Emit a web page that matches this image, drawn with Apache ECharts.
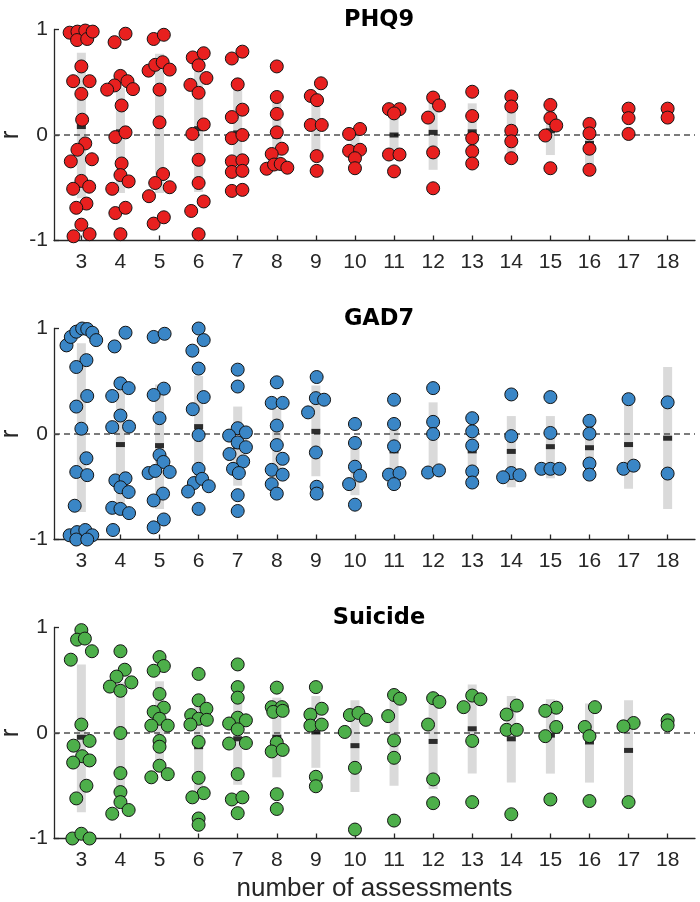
<!DOCTYPE html>
<html><head><meta charset="utf-8">
<script src="https://cdn.jsdelivr.net/npm/echarts@6/dist/echarts.min.js"></script>
<style>html,body{margin:0;padding:0;background:#fff}#c{width:700px;height:902px}</style>
</head><body><div id="c"></div>
<script>
// ---------- data ----------
const categories = [3,4,5,6,7,8,9,10,11,12,13,14,15,16,17,18];
const panelTitles = ['PHQ9','GAD7','Suicide'];
const xAxisTitle = 'number of assessments';
const yAxisTitle = 'r';
const referenceR = [0];

// points: [number of assessments, horizontal jitter, r]
const phqPoints = [
 [3,-0.30,0.97],[3,-0.10,0.98],[3,-0.11,0.90],[3,0.10,0.99],[3,0.15,0.91],[3,0.29,0.98],[3,0,0.65],[3,-0.21,0.51],[3,0.21,0.51],[3,0,0.39],[3,0.02,0.145],[3,0.10,-0.08],[3,-0.10,-0.14],[3,-0.27,-0.25],[3,0.27,-0.23],[3,0,-0.435],[3,-0.21,-0.51],[3,0.20,-0.49],[3,0.13,-0.65],[3,-0.13,-0.69],[3,0,-0.85],[3,0.21,-0.94],[3,-0.20,-0.96],
 [4,-0.15,0.88],[4,0.13,0.96],[4,0,0.56],[4,-0.15,0.47],[4,0.18,0.51],[4,-0.34,0.43],[4,0.32,0.435],[4,0.03,0.28],[4,-0.13,-0.02],[4,0.13,0.025],[4,0.03,-0.27],[4,0,-0.38],[4,0.21,-0.44],[4,-0.21,-0.51],[4,-0.13,-0.74],[4,0.13,-0.69],[4,0,-0.94],
 [5,-0.15,0.91],[5,0.11,0.95],[5,-0.28,0.61],[5,-0.11,0.665],[5,0.08,0.69],[5,0.26,0.62],[5,0,0.43],[5,0,0.12],[5,0.09,-0.37],[5,-0.11,-0.455],[5,0.26,-0.495],[5,-0.27,-0.58],[5,-0.15,-0.84],[5,0.11,-0.78],
 [6,-0.15,0.735],[6,0.13,0.775],[6,0,0.66],[6,0.20,0.54],[6,-0.21,0.475],[6,0,0.40],[6,0.13,0.10],[6,-0.16,0.01],[6,0,-0.235],[6,0,-0.455],[6,0.13,-0.63],[6,-0.19,-0.72],[6,0,-0.94],
 [7,-0.15,0.725],[7,0.12,0.79],[7,0,0.48],[7,0.12,0.24],[7,-0.15,0.17],[7,-0.15,-0.03],[7,0.12,0.0],[7,-0.15,-0.25],[7,0.12,-0.24],[7,-0.15,-0.35],[7,0.12,-0.34],[7,-0.15,-0.53],[7,0.12,-0.52],
 [8,0,0.65],[8,0,0.36],[8,0,0.20],[8,0,0.025],[8,0.13,-0.13],[8,-0.13,-0.18],[8,-0.26,-0.32],[8,-0.07,-0.28],[8,0.10,-0.275],[8,0.27,-0.31],
 [9,0.13,0.49],[9,-0.13,0.37],[9,0.03,0.33],[9,-0.13,0.095],[9,0.15,0.095],[9,0.02,-0.20],[9,0.02,-0.34],
 [10,0.13,0.057],[10,-0.15,0.01],[10,-0.15,-0.15],[10,0.13,-0.14],[10,0,-0.22],[10,0,-0.315],
 [11,-0.13,0.245],[11,0.14,0.245],[11,0,0.205],[11,-0.13,-0.185],[11,0.14,-0.185],[11,0,-0.345],
 [12,0,0.355],[12,0.15,0.28],[12,-0.13,0.165],[12,0,-0.165],[12,0,-0.505],
 [13,0,0.41],[13,0,0.18],[13,0,-0.03],[13,0,-0.155],[13,0,-0.27],
 [14,0,0.365],[14,0,0.27],[14,0,0.04],[14,0,-0.06],[14,0,-0.22],
 [15,0,0.285],[15,0,0.16],[15,0.15,0.09],[15,-0.13,-0.005],[15,0,-0.315],
 [16,0,0.105],[16,0,0.015],[16,0,-0.13],[16,0,-0.33],
 [17,0,0.25],[17,0,0.16],[17,0,0.01],
 [18,0,0.25],[18,0,0.165]
];
const phqMean = [0.08,0.03,0.105,0.06,0.02,-0.01,0.1,-0.126,0.0,0.025,0.03,0.07,0.04,-0.08,0.14,0.21];
const phqLow  = [-0.60,-0.55,-0.55,-0.54,-0.40,-0.34,-0.23,-0.27,-0.23,-0.33,-0.29,-0.16,-0.19,-0.37,null,null];
const phqHigh = [0.78,0.45,0.77,0.64,0.45,0.37,0.36,0.01,0.25,0.34,0.30,0.28,0.25,0.10,null,null];

const gadPoints = [
 [3,-0.38,0.84],[3,-0.27,0.92],[3,-0.13,0.97],[3,0.02,1.0],[3,0.15,0.995],[3,0.28,0.96],[3,0.38,0.89],[3,0.13,0.70],[3,-0.13,0.635],[3,0.15,0.36],[3,-0.13,0.26],[3,0,0.05],[3,0.13,-0.23],[3,-0.13,-0.36],[3,0.15,-0.39],[3,-0.17,-0.68],[3,-0.30,-0.96],[3,-0.11,-0.93],[3,0.10,-0.91],[3,0.28,-0.96],[3,-0.13,-1.0],[3,0.15,-1.0],
 [4,-0.15,0.83],[4,0.13,0.96],[4,0,0.48],[4,0.21,0.435],[4,-0.21,0.36],[4,0,0.175],[4,-0.21,0.065],[4,0.22,0.07],[4,-0.13,-0.44],[4,0.13,-0.42],[4,0,-0.505],[4,0.21,-0.55],[4,-0.21,-0.70],[4,0,-0.71],[4,0.22,-0.75],[4,-0.19,-0.91],
 [5,-0.15,0.92],[5,0.13,0.95],[5,0.11,0.43],[5,-0.15,0.37],[5,0,0.15],[5,0,-0.20],[5,0.10,-0.265],[5,-0.28,-0.37],[5,-0.11,-0.35],[5,0.26,-0.36],[5,0.09,-0.565],[5,-0.15,-0.63],[5,0.11,-0.81],[5,-0.15,-0.885],
 [6,0,1.0],[6,0.13,0.89],[6,-0.16,0.79],[6,0,0.62],[6,0.13,0.35],[6,-0.15,0.235],[6,0,-0.01],[6,0,-0.33],[6,-0.12,-0.465],[6,0.09,-0.425],[6,0.26,-0.495],[6,-0.27,-0.545],[6,0,-0.71],
 [7,0,0.61],[7,0,0.45],[7,0,0.055],[7,-0.22,-0.015],[7,0.21,0.015],[7,0,-0.08],[7,0.21,-0.125],[7,-0.21,-0.19],[7,0.14,-0.26],[7,-0.12,-0.33],[7,0.03,-0.37],[7,0,-0.58],[7,0,-0.73],
 [8,0,0.49],[8,-0.13,0.295],[8,0.15,0.295],[8,0,0.08],[8,0,-0.105],[8,0.15,-0.235],[8,-0.13,-0.34],[8,0.15,-0.385],[8,-0.13,-0.475],[8,0,-0.565],
 [9,0.02,0.54],[9,0,0.34],[9,0.21,0.325],[9,-0.20,0.205],[9,0,-0.175],[9,0.02,-0.50],[9,0.02,-0.565],
 [10,0,0.095],[10,0,-0.085],[10,0,-0.31],[10,0.13,-0.395],[10,-0.15,-0.475],[10,0,-0.67],
 [11,0,0.325],[11,0,0.095],[11,0,-0.117],[11,-0.13,-0.385],[11,0.14,-0.37],[11,0,-0.475],
 [12,0,0.435],[12,0,0.115],[12,0,0.0],[12,-0.13,-0.365],[12,0.15,-0.345],
 [13,0,0.15],[13,0,0.025],[13,0,-0.11],[13,0,-0.355],[13,0,-0.46],
 [14,0,0.375],[14,0,-0.02],[14,0,-0.37],[14,-0.21,-0.41],[14,0.21,-0.39],
 [15,0,0.35],[15,0,0.01],[15,-0.23,-0.33],[15,0,-0.33],[15,0.23,-0.33],
 [16,0,0.125],[16,0,0.003],[16,0,-0.28],[16,0,-0.385],
 [17,0,0.33],[17,-0.13,-0.33],[17,0.13,-0.30],
 [18,0,0.30],[18,0,-0.375]
];
const gadMean = [0.053,-0.10,-0.11,0.07,-0.12,-0.095,0.025,-0.307,-0.16,-0.02,-0.16,-0.165,-0.12,-0.13,-0.10,-0.04];
const gadLow  = [-0.74,-0.65,-0.71,-0.45,-0.49,-0.43,-0.40,-0.58,-0.44,-0.31,-0.40,-0.505,-0.42,-0.36,-0.52,-0.71];
const gadHigh = [0.86,0.42,0.47,0.55,0.26,0.24,0.46,-0.03,0.12,0.30,0.08,0.17,0.17,0.10,0.325,0.635];

const suiPoints = [
 [3,0,0.975],[3,-0.11,0.885],[3,0.09,0.895],[3,0.27,0.775],[3,-0.27,0.695],[3,0,0.08],[3,-0.20,-0.12],[3,0.21,-0.075],[3,0.02,-0.22],[3,-0.21,-0.28],[3,0.21,-0.26],[3,0.13,-0.50],[3,-0.13,-0.62],[3,-0.23,-1.0],[3,0,-0.955],[3,0.21,-1.0],
 [4,0,0.775],[4,0.11,0.60],[4,-0.10,0.535],[4,-0.27,0.44],[4,0.28,0.48],[4,0,0.40],[4,0,0.0],[4,0,-0.38],[4,0,-0.56],[4,0,-0.655],[4,-0.21,-0.765],[4,0.21,-0.73],
 [5,0,0.72],[5,0.11,0.635],[5,-0.15,0.59],[5,0,0.37],[5,0.11,0.24],[5,-0.15,0.20],[5,0,0.135],[5,-0.21,0.07],[5,0.21,0.07],[5,0,-0.075],[5,0,-0.13],[5,0,-0.31],[5,0.21,-0.39],[5,-0.21,-0.42],
 [6,0,0.56],[6,0,0.31],[6,0.20,0.23],[6,-0.19,0.17],[6,0,0.135],[6,0.21,0.125],[6,-0.21,0.08],[6,0,-0.085],[6,0,-0.425],[6,0.13,-0.57],[6,-0.16,-0.61],[6,0,-0.81],[6,0,-0.87],
 [7,0,0.65],[7,0,0.435],[7,0,0.335],[7,0,0.145],[7,-0.22,0.09],[7,0.21,0.12],[7,0,0.035],[7,-0.22,-0.10],[7,0.21,-0.095],[7,0,-0.39],[7,-0.15,-0.63],[7,0.12,-0.61],[7,0,-0.76],
 [8,0,0.43],[8,-0.13,0.245],[8,0.13,0.245],[8,-0.09,0.20],[8,0.15,0.21],[8,0,-0.09],[8,-0.13,-0.175],[8,0.15,-0.16],[8,0,-0.58],[8,0,-0.72],
 [9,0,0.435],[9,0.15,0.23],[9,-0.14,0.175],[9,-0.14,0.07],[9,0.15,0.08],[9,0,-0.415],[9,0,-0.505],
 [10,-0.13,0.17],[10,0.09,0.19],[10,0.28,0.125],[10,-0.26,0.01],[10,0,-0.33],[10,0,-0.915],
 [11,0,0.36],[11,0.15,0.325],[11,-0.15,0.16],[11,0,-0.07],[11,0,-0.235],[11,0,-0.83],
 [12,0,0.33],[12,0.16,0.295],[12,-0.13,0.08],[12,0,-0.44],[12,0,-0.665],
 [13,0,0.355],[13,0.21,0.32],[13,-0.22,0.245],[13,0,-0.075],[13,0,-0.655],
 [14,0.14,0.26],[14,-0.12,0.175],[14,-0.12,0.03],[14,0.14,0.03],[14,0,-0.77],
 [15,0.15,0.24],[15,-0.13,0.21],[15,0.15,0.057],[15,-0.13,-0.03],[15,0,-0.63],
 [16,0.14,0.245],[16,-0.12,0.057],[16,0,-0.03],[16,0,-0.645],
 [17,0.13,0.095],[17,-0.13,0.063],[17,0,-0.655],
 [18,0,0.12],[18,0,0.073]
];
const suiMean = [-0.04,0.012,0.12,-0.13,-0.055,-0.04,0.01,-0.12,-0.048,-0.08,0.04,-0.055,-0.02,-0.085,-0.165,0.097];
const suiLow  = [-0.75,-0.52,-0.26,-0.56,-0.49,-0.42,-0.33,-0.56,-0.50,-0.53,-0.385,-0.47,-0.385,-0.47,-0.61,null];
const suiHigh = [0.65,0.48,0.49,0.30,0.38,0.335,0.35,0.31,0.33,0.36,0.46,0.35,0.32,0.28,0.31,null];

const panelColors = ['#E8201F','#3A86C6','#4DAF4A'];

// ---------- build ----------
const panels = [
  {pts: phqPoints, mean: phqMean, lo: phqLow, hi: phqHigh},
  {pts: gadPoints, mean: gadMean, lo: gadLow, hi: gadHigh},
  {pts: suiPoints, mean: suiMean, lo: suiLow, hi: suiHigh}
];
const gridTops = [29.5, 328.5, 627.5];
const gridH = 211;
const axisColor = '#262626';
const sans = '"Liberation Sans", Arial, sans-serif';

const grids = [], xAxes = [], yAxes = [], series = [], titles = [];
panels.forEach((p, i) => {
  grids.push({left: 54, right: 5, top: gridTops[i], height: gridH, containLabel: false, outerBoundsMode: 'none'});
  titles.push({text: panelTitles[i], left: 374, top: gridTops[i] - 26, textAlign: 'center',
    textStyle: {fontFamily: '"DejaVu Sans", sans-serif', fontWeight: 'bold', fontSize: 22.5, color: '#000'}});
  xAxes.push({
    type: 'value', gridIndex: i, min: 2.3, max: 18.7,
    axisLine: {show: true, onZero: false, lineStyle: {color: axisColor, width: 1.3}},
    axisTick: {show: true, inside: true, length: 5, customValues: categories, lineStyle: {color: axisColor, width: 1.3}},
    axisLabel: {customValues: categories, fontFamily: sans, fontSize: 21, color: axisColor, margin: 11},
    splitLine: {show: false},
    name: i === 2 ? xAxisTitle : '', nameLocation: 'middle', nameGap: 37,
    nameTextStyle: {fontFamily: sans, fontSize: 26, color: axisColor}
  });
  yAxes.push({
    type: 'value', gridIndex: i, min: -1, max: 1, interval: 1,
    axisLine: {show: true, onZero: false, lineStyle: {color: axisColor, width: 1.3}},
    axisTick: {show: true, inside: true, length: 5, lineStyle: {color: axisColor, width: 1.3}},
    axisLabel: {fontFamily: sans, fontSize: 21, color: axisColor, margin: 6},
    splitLine: {show: false},
    name: yAxisTitle, nameLocation: 'middle', nameGap: 30, nameRotate: 90, nameMoveOverlap: false,
    nameTextStyle: {fontFamily: sans, fontSize: 26, color: axisColor}
  });
  const barData = [], meanData = [];
  categories.forEach((c, k) => {
    if (p.lo[k] !== null && p.hi[k] !== null) barData.push([c, p.lo[k], p.hi[k]]);
    if (p.mean[k] !== null) meanData.push([c, p.mean[k]]);
  });
  series.push({
    type: 'custom', xAxisIndex: i, yAxisIndex: i, z: 1, silent: true,
    data: barData,
    encode: {x: 0, y: [1, 2]},
    renderItem: (params, api) => {
      const x = api.value(0);
      const top = api.coord([x, api.value(2)]);
      const bot = api.coord([x, api.value(1)]);
      const w = api.size([1, 0])[0] * 0.23;
      return {type: 'rect', shape: {x: top[0] - w / 2, y: top[1], width: w, height: bot[1] - top[1]},
        style: {fill: '#DADADA'}};
    }
  });
  // dashed reference line at r = 0 spanning the plot area
  series.push({
    type: 'custom', xAxisIndex: i, yAxisIndex: i, z: 2, silent: true,
    data: referenceR.map(v => [categories[0], v]),
    encode: {y: 1},
    renderItem: (params, api) => {
      const cs = params.coordSys;
      const y = api.coord([api.value(0), api.value(1)])[1];
      return {type: 'line', shape: {x1: cs.x, y1: y, x2: cs.x + cs.width, y2: y},
        style: {stroke: '#505050', lineWidth: 1.5, lineDash: [6, 4]}};
    }
  });
  series.push({
    type: 'scatter', xAxisIndex: i, yAxisIndex: i, z: 3, silent: true,
    symbol: 'rect', symbolSize: [9, 5], itemStyle: {color: '#000'},
    data: meanData, clip: false
  });
  series.push({
    type: 'scatter', xAxisIndex: i, yAxisIndex: i, z: 4, silent: true, clip: false,
    symbol: 'circle', symbolSize: 13,
    itemStyle: {color: panelColors[i], borderColor: '#141414', borderWidth: 1, opacity: 1},
    data: p.pts.map(d => [d[0] + d[1], d[2]])
  });
});

const chart = echarts.init(document.getElementById('c'), null, {renderer: 'canvas'});
chart.setOption({
  animation: false,
  backgroundColor: '#fff',
  title: titles,
  grid: grids, xAxis: xAxes, yAxis: yAxes, series: series
});
</script></body></html>
